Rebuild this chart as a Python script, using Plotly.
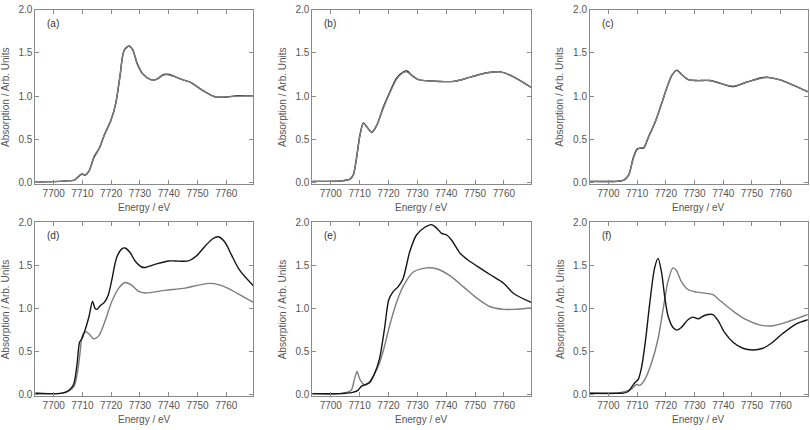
import plotly.graph_objects as go

# ---------------- data ----------------
panel_labels = ["(a)", "(b)", "(c)", "(d)", "(e)", "(f)"]
x_ticks = [7700, 7710, 7720, 7730, 7740, 7750, 7760]
y_ticks = [0.0, 0.5, 1.0, 1.5, 2.0]

a_black_E = [7693.6, 7700, 7704.3, 7707.2, 7709.8, 7710.9, 7712.2, 7714.1, 7715.9, 7717.6, 7719.9, 7721.6, 7723.0, 7724.5, 7726.2, 7727.4, 7729.1, 7730.9, 7733.7, 7735.5, 7738.3, 7740.1, 7744.7, 7747.6, 7751.6, 7756.2, 7759.7, 7764.3, 7769.5]
a_black_Y = [0.01, 0.012, 0.02, 0.03, 0.10, 0.087, 0.13, 0.30, 0.40, 0.55, 0.72, 0.92, 1.22, 1.53, 1.58, 1.54, 1.37, 1.26, 1.19, 1.19, 1.25, 1.25, 1.19, 1.16, 1.07, 0.99, 0.99, 1.005, 1.0]
a_grey_E = a_black_E
a_grey_Y = [0.01, 0.012, 0.02, 0.03, 0.10, 0.088, 0.13, 0.31, 0.40, 0.55, 0.72, 0.92, 1.22, 1.53, 1.575, 1.54, 1.37, 1.26, 1.19, 1.19, 1.245, 1.245, 1.19, 1.16, 1.07, 0.99, 0.99, 1.0, 1.0]

b_black_E = [7693.6, 7703.7, 7706.6, 7707.8, 7708.9, 7710.1, 7711.3, 7712.6, 7714.2, 7715.9, 7718.2, 7720.5, 7722.9, 7725.2, 7726.4, 7728.1, 7730.4, 7734.5, 7742.6, 7748.4, 7754.2, 7758.9, 7763.5, 7769.5]
b_black_Y = [0.015, 0.02, 0.04, 0.09, 0.28, 0.55, 0.69, 0.64, 0.58, 0.66, 0.87, 1.05, 1.21, 1.28, 1.29, 1.24, 1.19, 1.175, 1.17, 1.22, 1.27, 1.28, 1.22, 1.10]
b_grey_E = b_black_E
b_grey_Y = [0.015, 0.02, 0.04, 0.09, 0.27, 0.54, 0.685, 0.64, 0.58, 0.66, 0.86, 1.04, 1.20, 1.275, 1.28, 1.24, 1.19, 1.175, 1.17, 1.22, 1.27, 1.28, 1.22, 1.10]

c_black_E = [7693.6, 7703.0, 7705.4, 7707.1, 7708.6, 7710.0, 7711.1, 7712.3, 7714.0, 7716.3, 7718.6, 7720.3, 7722.1, 7723.8, 7725.5, 7727.8, 7730.7, 7735.3, 7738.8, 7743.4, 7748.0, 7754.9, 7759.5, 7764.1, 7769.5]
c_black_Y = [0.015, 0.015, 0.03, 0.09, 0.28, 0.39, 0.40, 0.40, 0.53, 0.70, 0.92, 1.09, 1.24, 1.30, 1.25, 1.19, 1.18, 1.18, 1.15, 1.11, 1.16, 1.22, 1.19, 1.13, 1.05]
c_grey_E = c_black_E
c_grey_Y = [0.015, 0.015, 0.03, 0.09, 0.27, 0.38, 0.40, 0.41, 0.53, 0.70, 0.92, 1.09, 1.24, 1.295, 1.25, 1.19, 1.18, 1.18, 1.15, 1.115, 1.16, 1.215, 1.19, 1.13, 1.05]

d_black_E = [7693.6, 7702.9, 7705.2, 7706.9, 7708.1, 7709.0, 7709.8, 7711.0, 7712.3, 7713.5, 7714.4, 7715.1, 7716.1, 7717.6, 7719.0, 7720.2, 7721.9, 7723.7, 7724.8, 7726.5, 7728.3, 7730.6, 7731.8, 7735.2, 7739.9, 7742.2, 7746.8, 7749.7, 7752.6, 7755.4, 7757.2, 7759.5, 7761.8, 7764.7, 7769.5]
d_black_Y = [0.02, 0.02, 0.05, 0.12, 0.35, 0.61, 0.65, 0.76, 0.91, 1.08, 1.00, 0.99, 1.03, 1.07, 1.16, 1.33, 1.59, 1.69, 1.70, 1.65, 1.55, 1.48, 1.475, 1.51, 1.55, 1.55, 1.55, 1.61, 1.72, 1.81, 1.83, 1.77, 1.62, 1.44, 1.26]
d_grey_E = [7693.6, 7702.9, 7706.9, 7708.3, 7709.2, 7710.0, 7711.2, 7712.7, 7713.8, 7715.6, 7717.9, 7720.2, 7722.5, 7724.8, 7727.1, 7729.4, 7731.8, 7738.7, 7745.7, 7750.3, 7754.9, 7759.5, 7764.1, 7769.5]
d_grey_Y = [0.02, 0.02, 0.09, 0.27, 0.50, 0.69, 0.73, 0.69, 0.65, 0.68, 0.86, 1.08, 1.23, 1.30, 1.27, 1.20, 1.18, 1.21, 1.235, 1.27, 1.29, 1.25, 1.17, 1.07]

e_black_E = [7693.6, 7702.9, 7705.2, 7707.6, 7709.3, 7710.8, 7712.2, 7713.4, 7715.1, 7716.9, 7718.6, 7720.1, 7721.5, 7723.3, 7725.0, 7727.4, 7729.7, 7732.6, 7734.9, 7736.7, 7738.4, 7740.2, 7741.9, 7744.8, 7747.2, 7750.7, 7755.3, 7760.0, 7763.5, 7769.5]
e_black_Y = [0.015, 0.015, 0.02, 0.03, 0.05, 0.105, 0.12, 0.14, 0.24, 0.42, 0.76, 1.10, 1.19, 1.25, 1.34, 1.66, 1.85, 1.94, 1.97, 1.93, 1.87, 1.85, 1.79, 1.64, 1.57, 1.49, 1.39, 1.29, 1.17, 1.07]
e_grey_E = [7693.6, 7703.5, 7707.0, 7708.2, 7709.1, 7710.1, 7711.6, 7713.4, 7715.1, 7716.9, 7718.6, 7720.4, 7722.7, 7725.0, 7728.5, 7733.2, 7736.7, 7741.3, 7746.0, 7750.6, 7755.3, 7760.0, 7763.5, 7769.5]
e_grey_Y = [0.015, 0.015, 0.05, 0.18, 0.27, 0.18, 0.12, 0.15, 0.24, 0.37, 0.56, 0.80, 1.06, 1.25, 1.42, 1.47, 1.46, 1.38, 1.25, 1.12, 1.02, 0.99, 0.99, 1.005]

f_black_E = [7693.6, 7702.8, 7705.2, 7706.9, 7708.1, 7709.2, 7710.4, 7711.5, 7713.0, 7714.4, 7716.1, 7717.3, 7718.5, 7719.6, 7720.8, 7722.5, 7723.9, 7725.4, 7727.7, 7729.4, 7731.2, 7732.9, 7734.7, 7736.4, 7738.2, 7740.5, 7743.4, 7746.8, 7750.3, 7753.8, 7757.2, 7760.7, 7765.3, 7769.5]
f_black_Y = [0.02, 0.02, 0.02, 0.04, 0.09, 0.14, 0.18, 0.31, 0.65, 1.06, 1.47, 1.58, 1.42, 1.14, 0.91, 0.78, 0.75, 0.78, 0.87, 0.90, 0.88, 0.91, 0.93, 0.93, 0.86, 0.72, 0.61, 0.54, 0.52, 0.54, 0.61, 0.71, 0.82, 0.87]
f_grey_E = [7693.6, 7703.0, 7708.1, 7709.8, 7710.9, 7712.7, 7715.0, 7717.3, 7719.0, 7720.8, 7722.5, 7723.7, 7725.4, 7727.7, 7730.6, 7734.1, 7736.4, 7739.3, 7743.4, 7748.0, 7752.6, 7757.2, 7761.8, 7769.5]
f_grey_Y = [0.02, 0.02, 0.07, 0.12, 0.11, 0.18, 0.37, 0.65, 0.98, 1.32, 1.47, 1.44, 1.31, 1.22, 1.19, 1.175, 1.16, 1.08, 0.97, 0.87, 0.81, 0.80, 0.84, 0.93]

series = [
    (a_black_E, a_black_Y, a_grey_E, a_grey_Y),
    (b_black_E, b_black_Y, b_grey_E, b_grey_Y),
    (c_black_E, c_black_Y, c_grey_E, c_grey_Y),
    (d_black_E, d_black_Y, d_grey_E, d_grey_Y),
    (e_black_E, e_black_Y, e_grey_E, e_grey_Y),
    (f_black_E, f_black_Y, f_grey_E, f_grey_Y),
]

# ---------------- layout ----------------
W, H = 810, 430
x_doms = [(35.3 / W, 253.3 / W), (312.3 / W, 531.0 / W), (590.0 / W, 807.7 / W)]
y_doms = [(1 - 182.5 / H, 1 - 4.7 / H), (1 - 399.3 / H, 1 - 221.7 / H)]

BLACK = "#151515"
GREY = "#7d7d7d"
FRAME = "#8a8a8a"
TXT = "#555555"
FONT = "Liberation Sans"

fig = go.Figure()
annotations = []
layout_axes = {}

for i, (bE, bY, gE, gY) in enumerate(series):
    r, c = divmod(i, 3)
    n = i + 1
    xa = "x" if n == 1 else f"x{n}"
    ya = "y" if n == 1 else f"y{n}"
    grey_on_top = i < 3
    traces = [(bE, bY, BLACK), (gE, gY, GREY)]
    if not grey_on_top:
        traces = [(gE, gY, GREY), (bE, bY, BLACK)]
    for E, Y, col in traces:
        fig.add_trace(go.Scatter(x=E, y=Y, mode="lines", xaxis=xa, yaxis=ya,
                                 line=dict(color=col, width=1.4, shape="spline", smoothing=0.8),
                                 showlegend=False, hoverinfo="skip"))
    common = dict(showline=True, linecolor=FRAME, linewidth=1, mirror="ticks",
                  ticks="inside", ticklen=4, tickcolor=FRAME, tickwidth=1,
                  showgrid=False, zeroline=False,
                  tickfont=dict(family=FONT, size=10, color=TXT))
    layout_axes["xaxis" if n == 1 else f"xaxis{n}"] = dict(
        domain=list(x_doms[c]), anchor=ya, range=[7693.6, 7769.4],
        tickvals=x_ticks, ticktext=[str(t) for t in x_ticks], **common)
    layout_axes["yaxis" if n == 1 else f"yaxis{n}"] = dict(
        domain=list(y_doms[r]), anchor=xa, range=[-0.012, 2.0],
        tickvals=y_ticks, ticktext=[f"{t:.1f}" for t in y_ticks], **common)

    x0, x1 = x_doms[c]
    y0, y1 = y_doms[r]
    annotations.append(dict(text=panel_labels[i], xref="paper", yref="paper",
                            x=x0 + 10 / W, y=y1 - 14 / H, xanchor="left", yanchor="middle",
                            showarrow=False, font=dict(family=FONT, size=10, color="#333333")))
    annotations.append(dict(text="Energy / eV", xref="paper", yref="paper",
                            x=(x0 + x1) / 2, y=y0 - 24 / H, xanchor="center", yanchor="middle",
                            showarrow=False, font=dict(family=FONT, size=10, color=TXT)))
    annotations.append(dict(text="Absorption / Arb. Units", xref="paper", yref="paper",
                            x=x0 - 30 / W, y=(y0 + y1) / 2, xanchor="center", yanchor="middle",
                            textangle=-90, showarrow=False,
                            font=dict(family=FONT, size=10, color=TXT)))

fig.update_layout(width=W, height=H, margin=dict(l=0, r=0, t=0, b=0),
                  paper_bgcolor="white", plot_bgcolor="white",
                  annotations=annotations, **layout_axes)

fig.write_html("out.html", config={"displayModeBar": False},
               post_script="document.body.style.margin='0';document.body.style.overflow='hidden';")
